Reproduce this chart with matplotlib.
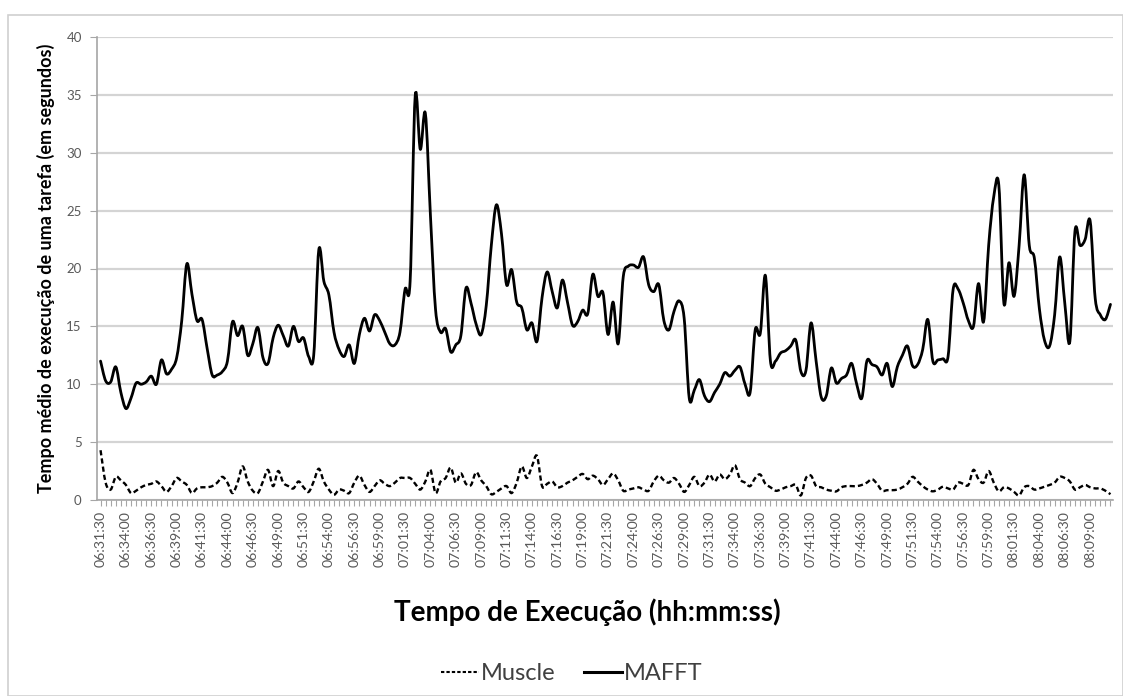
import matplotlib
matplotlib.use("Agg")
import matplotlib.pyplot as plt
import numpy as np
import pandas as pd
from matplotlib.patches import Rectangle, PathPatch
from matplotlib.path import Path
from matplotlib.lines import Line2D

plt.rcParams['font.family'] = ['Lato', 'DejaVu Sans']

# categories: one sample every 30 s from 06:31:30
start_time = "06:31:30"
n_points = 200
categories = pd.date_range("2000-01-01 " + start_time, periods=n_points, freq="30s").strftime("%H:%M:%S").tolist()

tick_labels = ["06:31:30", "06:34:00", "06:36:30", "06:39:00", "06:41:30", "06:44:00", "06:46:30",
               "06:49:00", "06:51:30", "06:54:00", "06:56:30", "06:59:00", "07:01:30", "07:04:00",
               "07:06:30", "07:09:00", "07:11:30", "07:14:00", "07:16:30", "07:19:00", "07:21:30",
               "07:24:00", "07:26:30", "07:29:00", "07:31:30", "07:34:00", "07:36:30", "07:39:00",
               "07:41:30", "07:44:00", "07:46:30", "07:49:00", "07:51:30", "07:54:00", "07:56:30",
               "07:59:00", "08:01:30", "08:04:00", "08:06:30", "08:09:00"]

mafft = [12.0, 10.3, 10.2, 11.5, 9.3, 7.9, 8.8, 10.1, 10.0, 10.2,
         10.7, 10.0, 12.1, 10.9, 11.3, 12.3, 15.5, 20.4, 17.8, 15.5,
         15.6, 13.1, 10.8, 10.8, 11.1, 12.0, 15.4, 14.2, 15.0, 12.5,
         13.5, 14.9, 12.3, 11.8, 14.0, 15.1, 14.2, 13.3, 15.0, 13.7,
         14.0, 12.4, 12.5, 21.6, 18.9, 17.7, 14.5, 13.0, 12.4, 13.4,
         11.8, 14.3, 15.7, 14.6, 16.0, 15.5, 14.5, 13.5, 13.4, 14.5,
         18.2, 18.9, 34.9, 30.3, 33.4, 24.6, 16.5, 14.5, 14.8, 12.8,
         13.4, 14.2, 18.3, 17.0, 15.2, 14.3, 16.8, 22.0, 25.5, 23.0,
         18.6, 19.9, 17.1, 16.6, 14.7, 15.3, 13.7, 17.5, 19.7, 18.0,
         16.6, 19.0, 17.1, 15.1, 15.4, 16.4, 16.1, 19.5, 17.6, 17.9,
         14.3, 17.1, 13.5, 19.3, 20.2, 20.3, 20.1, 21.0, 18.6, 18.0,
         18.6, 15.5, 14.7, 16.3, 17.2, 15.7, 8.8, 9.5, 10.4, 9.0,
         8.5, 9.3, 10.0, 11.0, 10.7, 11.2, 11.5, 10.0, 9.3, 14.7,
         14.4, 19.4, 12.0, 12.0, 12.7, 12.9, 13.3, 13.8, 11.1, 11.2,
         15.3, 12.0, 8.9, 9.0, 11.4, 10.1, 10.5, 10.8, 11.8, 10.0,
         8.8, 12.0, 11.7, 11.5, 10.8, 11.8, 9.8, 11.5, 12.5, 13.3,
         11.6, 11.7, 13.0, 15.6, 12.0, 12.1, 12.2, 12.4, 18.2, 18.2,
         17.0, 15.5, 15.0, 18.7, 15.4, 22.0, 26.2, 27.2, 17.0, 20.5,
         17.6, 22.0, 28.1, 22.0, 20.9, 16.5, 13.8, 13.3, 16.0, 21.0,
         17.0, 13.7, 23.2, 22.0, 22.5, 24.1, 17.4, 16.0, 15.6, 16.9]

muscle = [4.3, 1.5, 0.9, 2.0, 1.7, 1.3, 0.6, 0.8, 1.1, 1.3,
          1.4, 1.6, 1.2, 0.7, 1.2, 1.9, 1.6, 1.3, 0.6, 1.0,
          1.1, 1.1, 1.2, 1.5, 2.0, 1.5, 0.6, 1.5, 2.9, 1.6,
          0.8, 0.6, 1.6, 2.6, 1.2, 2.5, 1.5, 1.2, 1.0, 1.6,
          1.1, 0.7, 1.6, 2.7, 1.6, 0.9, 0.45, 0.9, 0.8, 0.6,
          1.5, 2.1, 1.3, 0.7, 1.2, 1.7, 1.4, 1.2, 1.5, 1.9,
          1.9, 1.9, 1.4, 0.9, 1.6, 2.6, 0.6, 1.6, 1.9, 2.8,
          1.5, 2.3, 1.4, 1.3, 2.4, 1.7, 1.2, 0.5, 0.7, 1.0,
          1.2, 0.6, 1.5, 2.9, 1.9, 2.9, 3.8, 1.2, 1.4, 1.6,
          1.1, 1.2, 1.5, 1.7, 2.0, 2.25, 1.8, 2.1, 1.8, 1.3,
          1.8, 2.3, 1.7, 0.8, 0.9, 1.0, 1.1, 0.9, 0.8, 1.6,
          2.1, 1.7, 1.5, 1.9, 1.4, 0.7, 1.3, 2.0, 1.2, 1.5,
          2.2, 1.6, 2.2, 1.8, 2.2, 3.0, 1.8, 1.5, 1.2, 1.9,
          2.2, 1.4, 1.1, 0.8, 0.9, 1.1, 1.2, 1.3, 0.4, 1.9,
          2.1, 1.2, 1.1, 0.9, 0.8, 0.75, 1.1, 1.2, 1.2, 1.2,
          1.3, 1.5, 1.8, 1.4, 0.8, 0.85, 0.85, 0.9, 1.1, 1.4,
          2.0, 1.6, 1.2, 0.9, 0.75, 0.9, 1.15, 1.0, 0.9, 1.5,
          1.4, 1.3, 2.6, 1.8, 1.5, 2.5, 1.5, 0.75, 1.1, 1.0,
          0.7, 0.4, 1.1, 1.2, 0.9, 1.0, 1.15, 1.3, 1.5, 2.0,
          1.9, 1.6, 0.9, 1.1, 1.3, 1.1, 1.0, 1.0, 0.8, 0.5]

y_ticks = [0, 5, 10, 15, 20, 25, 30, 35, 40]
series_names = ["Muscle", "MAFFT"]


def smooth_path(xs, ys):
    """Excel-like smoothed line: cubic Bezier segments through the data points."""
    pts = np.column_stack([xs, ys]).astype(float)
    n = len(pts)
    verts = [pts[0]]
    codes = [Path.MOVETO]
    for i in range(n - 1):
        p0 = pts[i - 1] if i > 0 else pts[i]
        p1 = pts[i]
        p2 = pts[i + 1]
        p3 = pts[i + 2] if i + 2 < n else pts[i + 1]
        c1 = p1 + (p2 - p0) / 6.0
        c2 = p2 - (p3 - p1) / 6.0
        verts += [c1, c2, p2]
        codes += [Path.CURVE4] * 3
    return Path(verts, codes)


W, H = 1123, 696
fig = plt.figure(figsize=(W / 100, H / 100), dpi=100)
fig.patch.set_facecolor("white")

# outer chart border
fig.patches.append(Rectangle((8 / W, 0.0), (W - 8) / W, (H - 15) / H, transform=fig.transFigure,
                             fill=False, edgecolor="#d0d0d0", linewidth=1.2))

ax = fig.add_axes([97 / W, 1 - 500 / H, (1113 - 97) / W, (500 - 37) / H])

x = np.arange(len(categories))
ax.add_patch(PathPatch(smooth_path(x, mafft), fill=False, edgecolor="black", linewidth=2.0,
                       joinstyle="round", capstyle="round", zorder=3))
ax.add_patch(PathPatch(smooth_path(x, muscle), fill=False, edgecolor="black", linewidth=1.7,
                       linestyle=(0, (2.2, 1.3)), zorder=3))

ax.set_xlim(-0.7, len(categories) - 0.5)
ax.set_ylim(0, 40)
ax.set_yticks(y_ticks)
ax.yaxis.grid(True, color="#d4d4d4", linewidth=1.6)
ax.set_axisbelow(True)

label_pos = [categories.index(t) for t in tick_labels]
ax.set_xticks(label_pos)
ax.set_xticklabels(tick_labels, rotation=90, fontsize=10.2, color="#595959")
ax.set_xticks(x, minor=True)
ax.tick_params(axis="x", which="both", length=4, color="#a6a6a6", width=0.8, direction="out")
ax.tick_params(axis="x", which="major", pad=4)
ax.tick_params(axis="y", length=5, color="#a6a6a6", width=0.8, labelsize=9.5, labelcolor="#595959", pad=6)

for s in ["top", "right"]:
    ax.spines[s].set_visible(False)
for s in ["left", "bottom"]:
    ax.spines[s].set_color("#a6a6a6")
    ax.spines[s].set_linewidth(1.2)

ax.set_ylabel("Tempo médio de execução de uma tarefa (em segundos)", fontsize=13,
              fontweight="bold", color="black", labelpad=8)
ax.set_xlabel("Tempo de Execução (hh:mm:ss)", fontsize=20, fontweight="bold",
              color="black", labelpad=20)
ax.xaxis.set_label_coords((587 - 97) / (1113 - 97), -(612 - 500) / (500 - 37), transform=ax.transAxes)
ax.xaxis.label.set_va("center")

handles = [Line2D([], [], color="black", linewidth=1.5, linestyle=(0, (1.6, 1.0))),
           Line2D([], [], color="black", linewidth=2.2)]
fig.legend(handles, series_names, loc="center", bbox_to_anchor=(572 / W, 1 - 674 / H),
           ncol=2, frameon=False, fontsize=17, handlelength=1.6, handletextpad=0.1,
           columnspacing=1.2, labelcolor="#404040")

fig.savefig("out.png", dpi=100, facecolor="white")
